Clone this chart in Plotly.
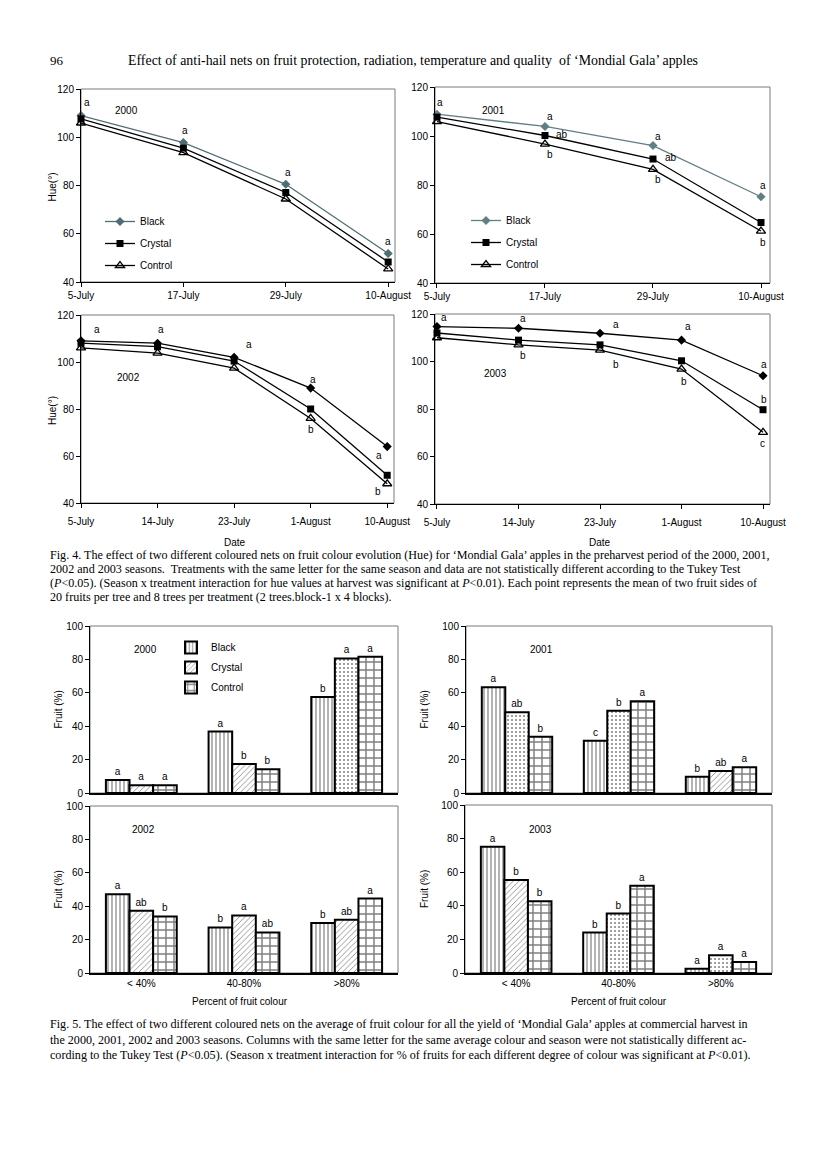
import plotly.graph_objects as go
import pandas as pd

W, H = 827, 1169

# ---------------- Fig. 4 data (Hue) ----------------
dates_4pt = ["2000-07-05", "2000-07-17", "2000-07-29", "2000-08-10"]
labels_4pt = ["5-July", "17-July", "29-July", "10-August"]
dates_5pt = ["2002-07-05", "2002-07-14", "2002-07-23", "2002-08-01", "2002-08-10"]
labels_5pt = ["5-July", "14-July", "23-July", "1-August", "10-August"]

hue_2000_black = [109.0, 97.8, 80.5, 51.8]
hue_2000_crystal = [107.6, 95.5, 77.1, 48.3]
hue_2000_control = [105.9, 93.6, 74.4, 45.4]

hue_2001_black = [108.9, 103.9, 96.1, 75.2]
hue_2001_crystal = [107.7, 100.2, 90.6, 64.7]
hue_2001_control = [105.9, 96.7, 86.4, 61.2]

hue_2002_black = [109.0, 108.0, 102.0, 88.9, 64.0]
hue_2002_crystal = [108.0, 106.5, 100.4, 80.0, 51.8]
hue_2002_control = [106.0, 103.8, 97.4, 76.0, 48.2]

hue_2003_black = [114.7, 114.0, 111.9, 109.0, 94.0]
hue_2003_crystal = [112.0, 109.0, 107.0, 100.3, 79.7]
hue_2003_control = [110.0, 107.0, 104.8, 96.8, 70.2]

# significance letters: (point index, series, letter)
letters_2000 = [(0, "Black", "a"), (1, "Black", "a"), (2, "Black", "a"), (3, "Black", "a")]
letters_2001 = [(0, "Black", "a"), (1, "Black", "a"), (1, "Crystal", "ab"), (1, "Control", "b"),
                (2, "Black", "a"), (2, "Crystal", "ab"), (2, "Control", "b"),
                (3, "Black", "a"), (3, "Control", "b")]
letters_2002 = [(0, "Black", "a"), (1, "Black", "a"), (2, "Black", "a"), (3, "Black", "a"),
                (3, "Control", "b"), (4, "Crystal", "a"), (4, "Control", "b")]
letters_2003 = [(0, "Black", "a"), (1, "Black", "a"), (2, "Black", "a"), (3, "Black", "a"),
                (4, "Black", "a"), (1, "Control", "b"), (2, "Control", "b"), (3, "Control", "b"),
                (4, "Crystal", "b"), (4, "Control", "c")]

# ---------------- Fig. 5 data (% fruit per colour class) ----------------
colour_classes = ["< 40%", "40-80%", ">80%"]
fruit_2000_black = [7.8, 36.8, 57.5]
fruit_2000_crystal = [4.6, 17.4, 80.6]
fruit_2000_control = [4.6, 14.2, 81.6]
fruit_2001_black = [63.3, 31.3, 9.8]
fruit_2001_crystal = [48.3, 49.3, 13.2]
fruit_2001_control = [33.7, 54.9, 15.4]
fruit_2002_black = [47.2, 27.3, 29.9]
fruit_2002_crystal = [37.3, 34.5, 31.9]
fruit_2002_control = [33.9, 24.3, 44.6]
fruit_2003_black = [75.1, 24.1, 2.6]
fruit_2003_crystal = [55.3, 35.4, 10.5]
fruit_2003_control = [42.7, 51.9, 6.6]

sig_2000_black = ["a", "a", "b"]
sig_2000_crystal = ["a", "b", "a"]
sig_2000_control = ["a", "b", "a"]
sig_2001_black = ["a", "c", "b"]
sig_2001_crystal = ["ab", "b", "ab"]
sig_2001_control = ["b", "a", "a"]
sig_2002_black = ["a", "b", "b"]
sig_2002_crystal = ["ab", "a", "ab"]
sig_2002_control = ["b", "ab", "a"]
sig_2003_black = ["a", "b", "a"]
sig_2003_crystal = ["b", "b", "a"]
sig_2003_control = ["b", "a", "a"]

# ---------------- styling / layout helpers ----------------
SANS = "Liberation Sans, Arial, sans-serif"
SERIF = "Liberation Serif, Times New Roman, serif"
OFF = 8  # page body margin of the html page


def fx(p):
    return (p - OFF) / W


def fy(p):
    return 1 - (p - OFF) / H


def day_offsets(dates):
    d = pd.to_datetime(dates)
    return [int((v - d[0]).days) for v in d]


def axname(i):
    return ("x", "y") if i == 1 else (f"x{i}", f"y{i}")


def laykey(i):
    return ("xaxis", "yaxis") if i == 1 else (f"xaxis{i}", f"yaxis{i}")


def ptext(x, y, text, size=10, family=SANS, xanchor="center", angle=0):
    return dict(x=fx(x), y=fy(y), xref="paper", yref="paper", text=text, showarrow=False,
                xanchor=xanchor, yanchor="middle", textangle=angle,
                font=dict(family=family, size=size, color="black"))


fig = go.Figure()
annotations = []
shapes = []
layout = dict(
    width=W, height=H, margin=dict(l=0, r=0, t=0, b=0, autoexpand=False),
    paper_bgcolor="white", plot_bgcolor="rgba(0,0,0,0)",
    font=dict(family=SANS, size=10, color="black"),
    bargap=0.31, bargroupgap=0.0, barmode="group",
    showlegend=True,
)

axis_common = dict(showline=True, linecolor="black", linewidth=1, ticks="outside",
                   ticklen=4, tickcolor="black", showgrid=False, zeroline=False,
                   automargin=False,
                   tickfont=dict(family=SANS, size=10, color="black"))

line_panels = [
    dict(i=1, year="2000", box=(81, 395, 89, 282), xr=(0, 36.8), dates=dates_4pt, labels=labels_4pt,
         series=(hue_2000_black, hue_2000_crystal, hue_2000_control), letters=letters_2000,
         bcol="#4f6e74", legend="legend", ytitle=True, xtitle=False, yearpos=(126, 111), tstand=0,
         offs=[(6, 13), (2, 12), (2, 12), (0, 12)]),
    dict(i=2, year="2001", box=(435, 770, 87, 283), xr=(-0.22, 37.0), dates=dates_4pt, labels=labels_4pt,
         series=(hue_2001_black, hue_2001_crystal, hue_2001_control), letters=letters_2001,
         bcol="#5f7f85", legend="legend2", ytitle=False, xtitle=False, yearpos=(494, 110), tstand=0,
         offs=[(3, 12), (5, 10), (17, 1), (5, -10), (5, 9), (18, 2), (5, -10), (2, 11), (2, -11)]),
    dict(i=3, year="2002", box=(81, 394, 315, 503), xr=(0, 36.8), dates=dates_5pt, labels=labels_5pt,
         series=(hue_2002_black, hue_2002_crystal, hue_2002_control), letters=letters_2002,
         bcol="black", legend=None, ytitle=True, xtitle=True, yearpos=(128, 377), tstand=5,
         offs=[(16, 11), (3, 14), (15, 13), (2, 9), (0, -11), (-8, 20), (-9, -8)]),
    dict(i=4, year="2003", box=(435, 770, 314, 504), xr=(-0.22, 36.77), dates=dates_5pt, labels=labels_5pt,
         series=(hue_2003_black, hue_2003_crystal, hue_2003_control), letters=letters_2003,
         bcol="black", legend=None, ytitle=False, xtitle=True, yearpos=(495, 373), tstand=5,
         offs=[(7, 9), (4, 10), (16, 9), (6, 14), (1, 11), (4, -11), (16, -14), (2, -12), (1, 10), (-1, -11)]),
]

names = ["Black", "Crystal", "Control"]

for p in line_panels:
    i = p["i"]
    xa, ya = axname(i)
    kx, ky = laykey(i)
    x0, x1, y0, y1 = p["box"]
    days = day_offsets(p["dates"])
    styles = [
        dict(mode="lines+markers", line=dict(color=p["bcol"], width=1.3),
             marker=dict(symbol="diamond", size=7, color=p["bcol"])),
        dict(mode="lines+markers", line=dict(color="black", width=1.3),
             marker=dict(symbol="square", size=7, color="black")),
        dict(mode="lines+markers", line=dict(color="black", width=1.3),
             marker=dict(symbol="triangle-up-open", size=8, color="black", line=dict(width=1.3))),
    ]
    for k, (nm, vals) in enumerate(zip(names, p["series"])):
        tr = go.Scatter(x=days, y=vals, name=nm, xaxis=xa, yaxis=ya, cliponaxis=False,
                        showlegend=p["legend"] is not None, legendgroup=f"{nm}{i}", **styles[k])
        if p["legend"] is not None:
            tr.legend = p["legend"]
        fig.add_trace(tr)
    layout[kx] = dict(axis_common, domain=[fx(x0), fx(x1)], range=list(p["xr"]),
                      tickvals=days, ticktext=p["labels"], anchor=ya, ticklabelstandoff=p["tstand"])
    layout[ky] = dict(axis_common, domain=[fy(y1), fy(y0)], range=[40, 120],
                      tickvals=[40, 60, 80, 100, 120], anchor=xa)
    shapes.append(dict(type="rect", xref=f"{xa} domain", yref=f"{ya} domain", x0=0, x1=1, y0=0, y1=1,
                       line=dict(color="#7a7a7a", width=1), layer="below"))
    lookup = dict(zip(names, p["series"]))
    for (idx, ser, let), (dx, dy) in zip(p["letters"], p["offs"]):
        annotations.append(dict(x=days[idx], y=lookup[ser][idx], xref=xa, yref=ya, text=let,
                                showarrow=False, xshift=dx, yshift=dy, xanchor="center",
                                yanchor="middle", font=dict(family=SANS, size=10)))
    yx, yy = p["yearpos"]
    annotations.append(ptext(yx, yy, p["year"]))
    if p["ytitle"]:
        annotations.append(ptext(52, (y0 + y1) / 2 + 2, "Hue(°)", angle=-90))
    if p["xtitle"]:
        annotations.append(ptext((x0 + x1) / 2 - 3, 542, "Date"))

bar_panels = [
    dict(i=5, year="2000", box=(90, 398, 626, 793),
         vals=(fruit_2000_black, fruit_2000_crystal, fruit_2000_control),
         sig=(sig_2000_black, sig_2000_crystal, sig_2000_control),
         crystal_shapes=["/", "/", "."], legend="legend3", bottom=False, yearpos=(145, 649), ytx=58),
    dict(i=6, year="2001", box=(466, 772, 626, 793),
         vals=(fruit_2001_black, fruit_2001_crystal, fruit_2001_control),
         sig=(sig_2001_black, sig_2001_crystal, sig_2001_control),
         crystal_shapes=[".", ".", "/"], legend=None, bottom=False, yearpos=(541, 649), ytx=424),
    dict(i=7, year="2002", box=(90, 398, 806, 973),
         vals=(fruit_2002_black, fruit_2002_crystal, fruit_2002_control),
         sig=(sig_2002_black, sig_2002_crystal, sig_2002_control),
         crystal_shapes=["/", "/", "/"], legend=None, bottom=True, yearpos=(143, 829), ytx=58),
    dict(i=8, year="2003", box=(465, 772, 805, 973),
         vals=(fruit_2003_black, fruit_2003_crystal, fruit_2003_control),
         sig=(sig_2003_black, sig_2003_crystal, sig_2003_control),
         crystal_shapes=["/", ".", "."], legend=None, bottom=True, yearpos=(540, 829), ytx=424),
]

for p in bar_panels:
    i = p["i"]
    xa, ya = axname(i)
    kx, ky = laykey(i)
    x0, x1, y0, y1 = p["box"]
    patterns = [
        dict(shape="|", size=4, solidity=0.3, fgcolor="black", bgcolor="white"),
        dict(shape=p["crystal_shapes"], size=4, solidity=0.2, fgcolor="black", bgcolor="white"),
        dict(shape="+", size=8, solidity=0.33, fgcolor="black", bgcolor="white"),
    ]
    for k, nm in enumerate(names):
        tr = go.Bar(x=colour_classes, y=p["vals"][k], name=nm, xaxis=xa, yaxis=ya,
                    marker=dict(color="white", line=dict(color="black", width=2), pattern=patterns[k]),
                    text=p["sig"][k], textposition="outside", textangle=0, cliponaxis=False,
                    textfont=dict(family=SANS, size=10, color="black"),
                    showlegend=p["legend"] is not None, legendgroup=f"b{nm}{i}",
                    offsetgroup=str(k))
        if p["legend"] is not None:
            tr.legend = p["legend"]
        fig.add_trace(tr)
    layout[kx] = dict(axis_common, domain=[fx(x0), fx(x1)], ticks="",
                      showticklabels=p["bottom"], anchor=ya, linewidth=1.5, type="category")
    layout[ky] = dict(axis_common, domain=[fy(y1), fy(y0)], range=[0, 100],
                      tickvals=[0, 20, 40, 60, 80, 100], anchor=xa)
    shapes.append(dict(type="rect", xref=f"{xa} domain", yref=f"{ya} domain", x0=0, x1=1, y0=0, y1=1,
                       line=dict(color="#7a7a7a", width=1), layer="below"))
    yx, yy = p["yearpos"]
    annotations.append(ptext(yx, yy, p["year"]))
    annotations.append(ptext(p["ytx"], (y0 + y1) / 2, "Fruit (%)", angle=-90))
    if p["bottom"]:
        annotations.append(ptext((x0 + x1) / 2 - 4 + (4 if i == 8 else 0), 1001, "Percent of fruit colour"))

layout["legend"] = dict(x=fx(100), y=fy(207), xanchor="left", yanchor="top", bgcolor="rgba(0,0,0,0)",
                        font=dict(family=SANS, size=10), tracegroupgap=3, itemwidth=30)
layout["legend2"] = dict(x=fx(466), y=fy(206), xanchor="left", yanchor="top", bgcolor="rgba(0,0,0,0)",
                         font=dict(family=SANS, size=10), tracegroupgap=3, itemwidth=30)
layout["legend3"] = dict(x=fx(171), y=fy(633), xanchor="left", yanchor="top", bgcolor="rgba(0,0,0,0)",
                         font=dict(family=SANS, size=10), tracegroupgap=1, itemwidth=30)

annotations.append(ptext(48, 60, "96", size=13, family=SERIF, xanchor="left"))
annotations.append(ptext(413, 60, "Effect of anti-hail nets on fruit protection, radiation, temperature and quality  of ‘Mondial Gala’ apples",
                         size=13.9, family=SERIF))

cap4 = [
    "Fig. 4. The effect of two different coloured nets on fruit colour evolution (Hue) for ‘Mondial Gala’ apples in the preharvest period of the 2000, 2001,",
    "2002 and 2003 seasons.  Treatments with the same letter for the same season and data are not statistically different according to the Tukey Test",
    "(<i>P</i>&lt;0.05). (Season x treatment interaction for hue values at harvest was significant at <i>P</i>&lt;0.01). Each point represents the mean of two fruit sides of",
    "20 fruits per tree and 8 trees per treatment (2 trees.block-1 x 4 blocks).",
]
cap5 = [
    "Fig. 5. The effect of two different coloured nets on the average of fruit colour for all the yield of ‘Mondial Gala’ apples at commercial harvest in",
    "the 2000, 2001, 2002 and 2003 seasons. Columns with the same letter for the same average colour and season were not statistically different ac-",
    "cording to the Tukey Test (<i>P</i>&lt;0.05). (Season x treatment interaction for % of fruits for each different degree of colour was significant at <i>P</i>&lt;0.01).",
]
for k, line in enumerate(cap4):
    annotations.append(ptext(48, 555 + 14 * k, line, size=12.1, family=SERIF, xanchor="left"))
for k, line in enumerate(cap5):
    annotations.append(ptext(48, 1024 + 15.5 * k, line, size=12.1, family=SERIF, xanchor="left"))

layout["annotations"] = annotations
layout["shapes"] = shapes
fig.update_layout(**layout)
fig.write_html("out.html")
